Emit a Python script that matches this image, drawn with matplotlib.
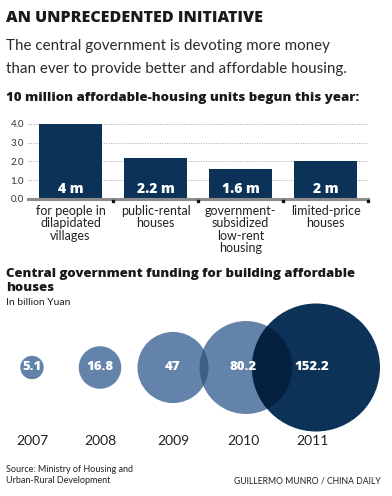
import numpy as np
import matplotlib.pyplot as plt
from matplotlib.patches import Circle

# bar chart data (million units)
bar_cats = ["for people in\ndilapidated\nvillages", "public-rental\nhouses",
            "government-\nsubsidized\nlow-rent\nhousing", "limited-price\nhouses"]
bar_vals = [4.0, 2.2, 1.6, 2.0]
bar_labels = ["4 m", "2.2 m", "1.6 m", "2 m"]
y_ticks = [0.0, 1.0, 2.0, 3.0, 4.0]

# bubble data (billion yuan)
years = ["2007", "2008", "2009", "2010", "2011"]
funding = [5.1, 16.8, 47, 80.2, 152.2]
fund_labels = ["5.1", "16.8", "47", "80.2", "152.2"]

NAVY = "#0c3357"
LIGHT = "#6383ab"
W, H = 392, 496

fig = plt.figure(figsize=(W / 100, H / 100), dpi=100)
fig.patch.set_facecolor("white")

def px(x, y):
    return x / W, 1 - y / H

# headings
hfont = "Open Sans"
fig.text(*px(6, 22), "AN UNPRECEDENTED INITIATIVE", fontsize=11.5, fontweight="heavy",
         family=hfont, color="#1a1a1a")
fig.text(*px(6, 50), "The central government is devoting more money", fontsize=10.9,
         family="Lato", color="#2a2a2a")
fig.text(*px(6, 73), "than ever to provide better and affordable housing.", fontsize=10.9,
         family="Lato", color="#2a2a2a")
fig.text(*px(6, 101), "10 million affordable-housing units begun this year:", fontsize=9.55,
         fontweight="heavy", family=hfont, color="#1a1a1a")

# bar chart
ax = fig.add_axes([28 / W, 1 - 199 / H, 340 / W, 75 / H])
x = np.arange(len(bar_vals))
ax.bar(x, bar_vals, width=0.74, color=NAVY, zorder=3)
ax.set_xlim(-0.5, 3.5)
ax.set_ylim(0, 4)
for v in y_ticks[1:]:
    ax.axhline(v, color="#a8a8a8", lw=0.7, ls=(0, (1, 1.5)), zorder=1, clip_on=False)
ax.axhline(0, color="#8c8c8c", lw=2.2, zorder=4, clip_on=False)
for i in range(len(bar_vals)):
    ax.plot(i + 0.5, -0.09, marker="s", ms=1.6, color="#111111", zorder=5, clip_on=False)
    ax.text(i, 0.55, bar_labels[i], ha="center", va="center", color="white",
            fontsize=10, fontweight="heavy", family=hfont, zorder=6)
    ax.text(i, -0.33, bar_cats[i], ha="center", va="top", fontsize=9,
            family="Lato", color="#222222", linespacing=1.03)
ax.set_yticks(y_ticks)
ax.set_yticklabels([f"{v:.1f}" for v in y_ticks], fontsize=7, color="#333333", family="Lato")
ax.tick_params(axis="y", length=0, pad=3)
ax.set_xticks([])
for s in ax.spines.values():
    s.set_visible(False)

# funding heading
fig.text(*px(6, 277), "Central government funding for building affordable", fontsize=9.45,
         fontweight="heavy", family=hfont, color="#1a1a1a")
fig.text(*px(6, 291), "houses", fontsize=9.45, fontweight="heavy", family=hfont, color="#1a1a1a")
fig.text(*px(6, 305), "In billion Yuan", fontsize=7.5, family="Lato", color="#222222")

# bubbles in a pixel-coordinate axes
bx = fig.add_axes([0, 0, 1, 1])
bx.set_xlim(0, W)
bx.set_ylim(H, 0)
bx.axis("off")
cx = [32, 100, 173, 246, 316]
cy = 367.5
k = 64 / np.sqrt(max(funding))
radii = [k * np.sqrt(v) for v in funding]
colors = [LIGHT, LIGHT, LIGHT, LIGHT, NAVY]
circles = []
for i in range(len(funding)):
    c = Circle((cx[i], cy), radii[i], color=colors[i], lw=0, zorder=2 + i)
    bx.add_patch(c)
    circles.append(c)
# overlaps
ov1 = Circle((cx[3], cy), radii[3], color="#3c5f88", lw=0, zorder=10)
bx.add_patch(ov1)
ov1.set_clip_path(circles[2])
ov2 = Circle((cx[3], cy), radii[3], color="#04213f", lw=0, zorder=10)
bx.add_patch(ov2)
ov2.set_clip_path(circles[4])
label_x = [32, 100, 173, 243, 312]
for i in range(len(funding)):
    bx.text(label_x[i], cy, fund_labels[i], ha="center", va="center", color="white",
            fontsize=9.5, fontweight="heavy", family=hfont, zorder=20)
    bx.text(label_x[i], 441, years[i], ha="center", va="center", color="#222222",
            fontsize=10, family="Lato", zorder=20)

fig.text(*px(6, 472), "Source: Ministry of Housing and", fontsize=6.5, family="Lato", color="#222222")
fig.text(*px(6, 483), "Urban-Rural Development", fontsize=6.5, family="Lato", color="#222222")
fig.text(*px(381, 484), "GUILLERMO MUNRO / CHINA DAILY", fontsize=6.2, family="Lato",
         color="#222222", ha="right")

fig.savefig("out.png", dpi=100)
